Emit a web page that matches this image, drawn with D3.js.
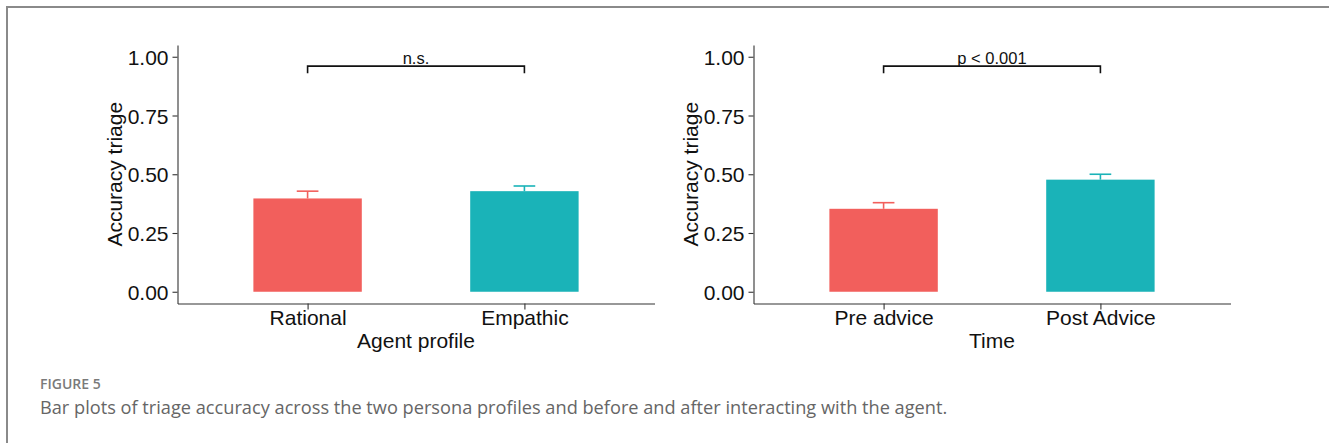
<!DOCTYPE html>
<html>
<head>
<meta charset="utf-8">
<script src="https://cdn.jsdelivr.net/npm/d3@7"></script>
<style>
  body { margin: 0; background: #fff; }
  svg { display: block; }
  .axis text { font-family: "Liberation Sans", Arial, sans-serif; font-size: 21px; fill: #111; }
  .axis path, .axis line { stroke: #333; stroke-width: 1.1; }
</style>
</head>
<body>
<svg id="chart" width="1329" height="443"></svg>
<script>
// left panel: agent profile
const profileCats = ["Rational", "Empathic"];
const profileMeans = [0.397, 0.428];
const profileUpper = [0.428, 0.45];
// right panel: time
const timeCats = ["Pre advice", "Post Advice"];
const timeMeans = [0.353, 0.477];
const timeUpper = [0.379, 0.50];

const yTicks = [0, 0.25, 0.5, 0.75, 1];
const barColors = ["#F25F5C", "#1AB3B8"];
const bracketLevel = 0.96, bracketFoot = 0.93;

const svg = d3.select("#chart");

// figure frame
svg.append("path")
  .attr("d", "M7,443V7H1329")
  .attr("fill", "none")
  .attr("stroke", "#8a8a8a")
  .attr("stroke-width", 2);

function panel(x0, cats, means, upper, xTitle, sigLabel) {
  var width = 477;
  var g = svg.append("g").attr("transform", `translate(${x0},0)`);

  var x = d3.scalePoint().domain(cats).range([0, width]).padding(0.6);
  var y = d3.scaleLinear().domain([-0.05, 1.05]).range([303.5, 45]);
  var step = x.step();

  // error bars first, bars drawn over them
  g.selectAll(".err")
    .data(cats)
    .enter()
    .append("g")
    .attr("class", "err")
    .each(function(d, i) {
      var e = d3.select(this);
      e.append("line")
        .attr("x1", x(d)).attr("x2", x(d))
        .attr("y1", y(means[i])).attr("y2", y(upper[i]))
        .attr("stroke", barColors[i]).attr("stroke-width", 1.6);
      e.append("line")
        .attr("x1", x(d) - step * 0.05).attr("x2", x(d) + step * 0.05)
        .attr("y1", y(upper[i])).attr("y2", y(upper[i]))
        .attr("stroke", barColors[i]).attr("stroke-width", 1.6);
    });

  g.selectAll(".bar")
    .data(cats)
    .enter()
    .append("rect")
    .attr("class", "bar")
    .attr("x", d => x(d) - step * 0.25)
    .attr("width", step * 0.5)
    .attr("y", (d, i) => y(means[i]))
    .attr("height", (d, i) => y(0) - y(means[i]))
    .attr("fill", (d, i) => barColors[i]);

  g.append("g")
    .attr("class", "axis")
    .attr("transform", `translate(0,${y(-0.05)})`)
    .call(d3.axisBottom(x).tickSize(6).tickSizeOuter(0).tickPadding(4))
    .selectAll("text").attr("dy", "0.56em");

  g.append("g")
    .attr("class", "axis")
    .call(d3.axisLeft(y).tickValues(yTicks).tickFormat(d3.format(".2f"))
      .tickSize(5).tickSizeOuter(0).tickPadding(4))
    .selectAll("text").attr("dy", "0.36em");

  // axis titles
  g.append("text")
    .attr("x", width / 2)
    .attr("y", 348)
    .attr("text-anchor", "middle")
    .style("font-family", "Liberation Sans, Arial, sans-serif")
    .style("font-size", "21px")
    .attr("fill", "#111")
    .text(xTitle);

  g.append("text")
    .attr("transform", `translate(-56,${y(0.5)}) rotate(-90)`)
    .attr("text-anchor", "middle")
    .style("font-family", "Liberation Sans, Arial, sans-serif")
    .style("font-size", "21px")
    .attr("fill", "#111")
    .text("Accuracy triage");

  // significance bracket
  var a = x(cats[0]), b = x(cats[1]);
  g.append("path")
    .attr("d", `M${a},${y(bracketFoot)}V${y(bracketLevel)}H${b}V${y(bracketFoot)}`)
    .attr("fill", "none")
    .attr("stroke", "#111")
    .attr("stroke-width", 1.6);

  g.append("text")
    .attr("x", (a + b) / 2)
    .attr("y", y(bracketLevel) - 2)
    .attr("text-anchor", "middle")
    .style("font-family", "Liberation Sans, Arial, sans-serif")
    .style("font-size", "16.5px")
    .attr("fill", "#111")
    .text(sigLabel);
}

panel(177.5, profileCats, profileMeans, profileUpper, "Agent profile", "n.s.");
panel(753.5, timeCats, timeMeans, timeUpper, "Time", "p < 0.001");

// caption
svg.append("text")
  .attr("x", 40)
  .attr("y", 389)
  .style("font-family", "Open Sans, sans-serif")
  .style("font-size", "14px")
  .style("font-weight", 600)
  .attr("fill", "#7a7a7a")
  .text("FIGURE 5");

svg.append("text")
  .attr("x", 40)
  .attr("y", 414)
  .style("font-family", "Open Sans, sans-serif")
  .style("font-size", "18.2px")
  .attr("fill", "#666")
  .text("Bar plots of triage accuracy across the two persona profiles and before and after interacting with the agent.");
</script>
</body>
</html>
